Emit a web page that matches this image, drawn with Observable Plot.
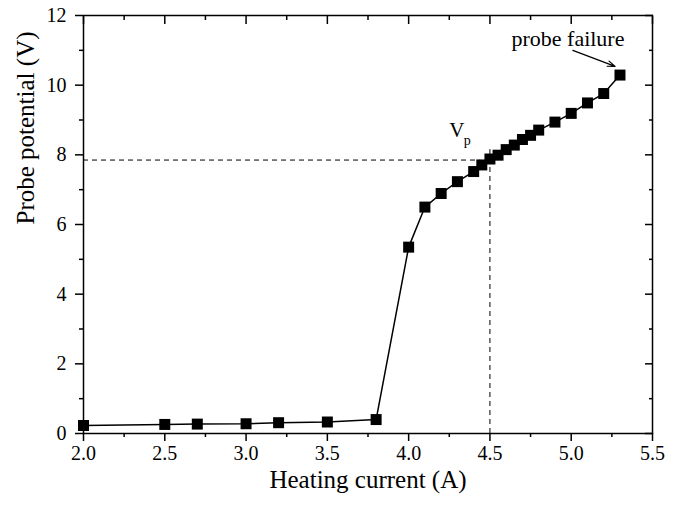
<!DOCTYPE html>
<html>
<head>
<meta charset="utf-8">
<script src="https://cdn.jsdelivr.net/npm/d3@7"></script>
<script src="https://cdn.jsdelivr.net/npm/@observablehq/plot@0.6"></script>
<style>
  html, body { margin: 0; padding: 0; background: #fff; }
  #chart { width: 681px; height: 505px; }
</style>
</head>
<body>
<div id="chart"></div>
<script>
const current = [2.0, 2.5, 2.7, 3.0, 3.2, 3.5, 3.8, 4.0, 4.1, 4.2, 4.3, 4.4, 4.45, 4.5, 4.55, 4.6, 4.65, 4.7, 4.75, 4.8, 4.9, 5.0, 5.1, 5.2, 5.3];
const potential = [0.23, 0.26, 0.27, 0.28, 0.31, 0.33, 0.40, 5.35, 6.50, 6.89, 7.23, 7.52, 7.71, 7.88, 7.99, 8.15, 8.28, 8.44, 8.56, 8.71, 8.94, 9.19, 9.49, 9.76, 10.29];

const xMajor = [2.0, 2.5, 3.0, 3.5, 4.0, 4.5, 5.0, 5.5];
const xMinor = [2.25, 2.75, 3.25, 3.75, 4.25, 4.75, 5.25];
const yMajor = [0, 2, 4, 6, 8, 10, 12];
const yMinor = [1, 3, 5, 7, 9, 11];

const vpLevel = [7.85];
const vpCurrent = [4.5];
const vpHorizontalEnd = [4.44];
const vpVerticalTop = [8.15];

const failureText = ["probe failure"];
const failurePos = [{x: 4.98, y: 11.34}];
const arrowFrom = [{x: 5.01, y: 11.0}];
const arrowTo = [{x: 5.27, y: 10.54}];

const data = current.map((c, i) => ({c, v: potential[i]}));
const font = "Liberation Serif, Times New Roman, serif";

const chart = Plot.plot({
  width: 681,
  height: 505,
  marginLeft: 83,
  marginRight: 29,
  marginTop: 15,
  marginBottom: 72,
  style: {fontFamily: font, background: "#fff", color: "#000"},
  x: {domain: [2.0, 5.5]},
  y: {domain: [0, 12]},
  marks: [
    Plot.frame({stroke: "#000", strokeWidth: 1.5}),
    // bottom axis
    Plot.axisX({anchor: "bottom", ticks: xMajor, tickSize: 8, tickPadding: 4, tickFormat: d3.format(".1f"), fontSize: 20, label: null, strokeWidth: 1.5}),
    Plot.axisX({anchor: "bottom", ticks: xMinor, tickSize: 4, text: null, label: null, strokeWidth: 1.5}),
    // top inward ticks
    Plot.axisX({anchor: "top", ticks: xMajor, tickSize: -8, text: null, label: null, strokeWidth: 1.5}),
    Plot.axisX({anchor: "top", ticks: xMinor, tickSize: -4, text: null, label: null, strokeWidth: 1.5}),
    // left axis
    Plot.axisY({anchor: "left", ticks: yMajor, tickSize: 8, tickPadding: 9, tickFormat: d3.format("d"), fontSize: 20, label: null, strokeWidth: 1.5}),
    Plot.axisY({anchor: "left", ticks: yMinor, tickSize: 4, text: null, label: null, strokeWidth: 1.5}),
    // right inward ticks
    Plot.axisY({anchor: "right", ticks: yMajor, tickSize: -8, text: null, label: null, strokeWidth: 1.5}),
    Plot.axisY({anchor: "right", ticks: yMinor, tickSize: -4, text: null, label: null, strokeWidth: 1.5}),
    // axis titles
    Plot.text(["Heating current (A)"], {frameAnchor: "bottom", dy: 54, fontSize: 25, fill: "#000"}),
    Plot.text(["Probe potential (V)"], {frameAnchor: "left", dx: -58, rotate: -90, fontSize: 25, fill: "#000"}),
    // dashed guides
    Plot.ruleY(vpLevel, {x1: 2.0, x2: vpHorizontalEnd[0], stroke: "#000", strokeWidth: 1, strokeDasharray: "5,4"}),
    Plot.ruleX(vpCurrent, {y1: 0, y2: vpVerticalTop[0], stroke: "#000", strokeWidth: 1, strokeDasharray: "5,4"}),
    // data
    Plot.line(data, {x: "c", y: "v", stroke: "#000", strokeWidth: 1.5}),
    Plot.dot(data, {x: "c", y: "v", symbol: "square", r: 6.2, fill: "#000", stroke: "none"}),
    // annotations
    Plot.text(["V"], {x: [4.296], y: [8.70], fontSize: 21, fill: "#000"}),
    Plot.text(["p"], {x: [4.36], y: [8.41], fontSize: 14, fill: "#000"}),
    Plot.text(failureText, {x: failurePos.map(d => d.x), y: failurePos.map(d => d.y), fontSize: 22, fill: "#000"}),
    Plot.arrow([0], {x1: arrowFrom.map(d => d.x), y1: arrowFrom.map(d => d.y), x2: arrowTo.map(d => d.x), y2: arrowTo.map(d => d.y), stroke: "#000", strokeWidth: 1.2, headLength: 10, headAngle: 40})
  ]
});
document.getElementById("chart").appendChild(chart);
</script>
</body>
</html>
